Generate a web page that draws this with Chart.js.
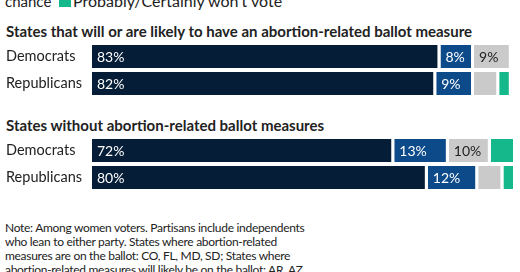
<!DOCTYPE html>
<html lang="en">
<head>
    <meta charset="UTF-8">
    <title>Women voters and abortion-related ballot measures</title>
    <style>
        body {
            margin: 0;
            background: #fff;
            font-family: Lato, "Noto Sans", sans-serif;
            color: #222;
            width: 520px;
            height: 272px;
            overflow: hidden;
            position: relative;
        }
        .txt {
            position: absolute;
            white-space: nowrap;
            line-height: 16px;
        }
        .legend {
            top: -7px;
            font-size: 15px;
        }
        .legend-box {
            position: absolute;
            left: 59px;
            top: -5px;
            width: 12px;
            height: 12px;
            background: #14b88a;
        }
        .title {
            left: 6px;
            font-size: 15px;
            font-weight: bold;
        }
        .note {
            left: 5px;
            top: 221px;
            font-size: 12px;
            line-height: 14px;
            letter-spacing: -0.3px;
        }
        canvas {
            position: absolute;
            left: 0;
        }
    </style>
    <script src="https://cdn.jsdelivr.net/npm/chart.js"></script>
</head>
<body>
    <div class="txt legend" style="left:5px">chance</div>
    <div class="legend-box"></div>
    <div class="txt legend" style="left:73px; font-size:16px">Probably/Certainly won't vote</div>
    <div class="txt title" style="top:23px">States that will or are likely to have an abortion-related ballot measure</div>
    <canvas id="chart1" width="520" height="72" style="top:34px"></canvas>
    <div class="txt title" style="top:117px">States without abortion-related ballot measures</div>
    <canvas id="chart2" width="520" height="72" style="top:128px"></canvas>
    <div class="txt note">Note: Among women voters. Partisans include independents<br>who lean to either party. States where abortion-related<br>measures are on the ballot: CO, FL, MD, SD; States where<br>abortion-related measures will likely be on the ballot: AR, AZ,</div>

    <script>
        // rows
        const parties = ['Democrats', 'Republicans'];
        const seriesNames = ['Certainly will vote', 'Probably will vote', 'Good chance', "Probably/Certainly won't vote"];
        const seriesColors = ['#061d38', '#0d4a8a', '#cacaca', '#14b88a'];
        const labelColors = ['#fff', '#fff', '#222', '#222'];

        // states with ballot measures
        const withCertain = [83, 82];
        const withProbably = [8, 9];
        const withChance = [9, 6];
        const withWont = [0, 3];

        // states without ballot measures
        const withoutCertain = [72, 80];
        const withoutProbably = [13, 12];
        const withoutChance = [10, 6];
        const withoutWont = [6, 3];

        const barLabels = {
            id: 'barLabels',
            afterDatasetsDraw(chart) {
                let ctx = chart.ctx;
                ctx.save();
                ctx.font = '14px Lato, "Noto Sans", sans-serif';
                ctx.textBaseline = 'middle';
                ctx.textAlign = 'left';
                chart.data.datasets.forEach((ds, i) => {
                    let meta = chart.getDatasetMeta(i);
                    meta.data.forEach((bar, j) => {
                        let v = ds.data[j];
                        if (v < 7) return;
                        ctx.fillStyle = labelColors[i];
                        ctx.fillText(v + '%', Math.min(bar.base, bar.x) + 5, bar.y + 1);
                    });
                });
                ctx.restore();
            }
        };

        function makeChart(id, values) {
            let ctx = document.getElementById(id).getContext('2d');
            return new Chart(ctx, {
                type: 'bar',
                data: {
                    labels: parties,
                    datasets: values.map((data, i) => ({
                        label: seriesNames[i],
                        data: data,
                        backgroundColor: seriesColors[i],
                        borderColor: '#fff',
                        borderWidth: { left: 0, right: 3, top: 0, bottom: 0 },
                        borderSkipped: false,
                        inflateAmount: 0,
                        barThickness: 23
                    }))
                },
                options: {
                    indexAxis: 'y',
                    responsive: false,
                    animation: false,
                    layout: { padding: { left: 6, right: 4, top: 0, bottom: 0 } },
                    plugins: {
                        legend: { display: false },
                        tooltip: { enabled: false }
                    },
                    scales: {
                        x: {
                            stacked: true,
                            display: false,
                            min: 0,
                            max: 101
                        },
                        y: {
                            stacked: true,
                            grid: { display: false },
                            border: { display: false },
                            ticks: {
                                crossAlign: 'far',
                                padding: 0,
                                color: '#222',
                                font: { family: 'Lato, "Noto Sans", sans-serif', size: 14.5, lineHeight: '18px' }
                            },
                            afterFit(scale) {
                                scale.width = 86;
                            }
                        }
                    }
                },
                plugins: [barLabels]
            });
        }

        makeChart('chart1', [withCertain, withProbably, withChance, withWont]);
        makeChart('chart2', [withoutCertain, withoutProbably, withoutChance, withoutWont]);
    </script>
</body>
</html>
